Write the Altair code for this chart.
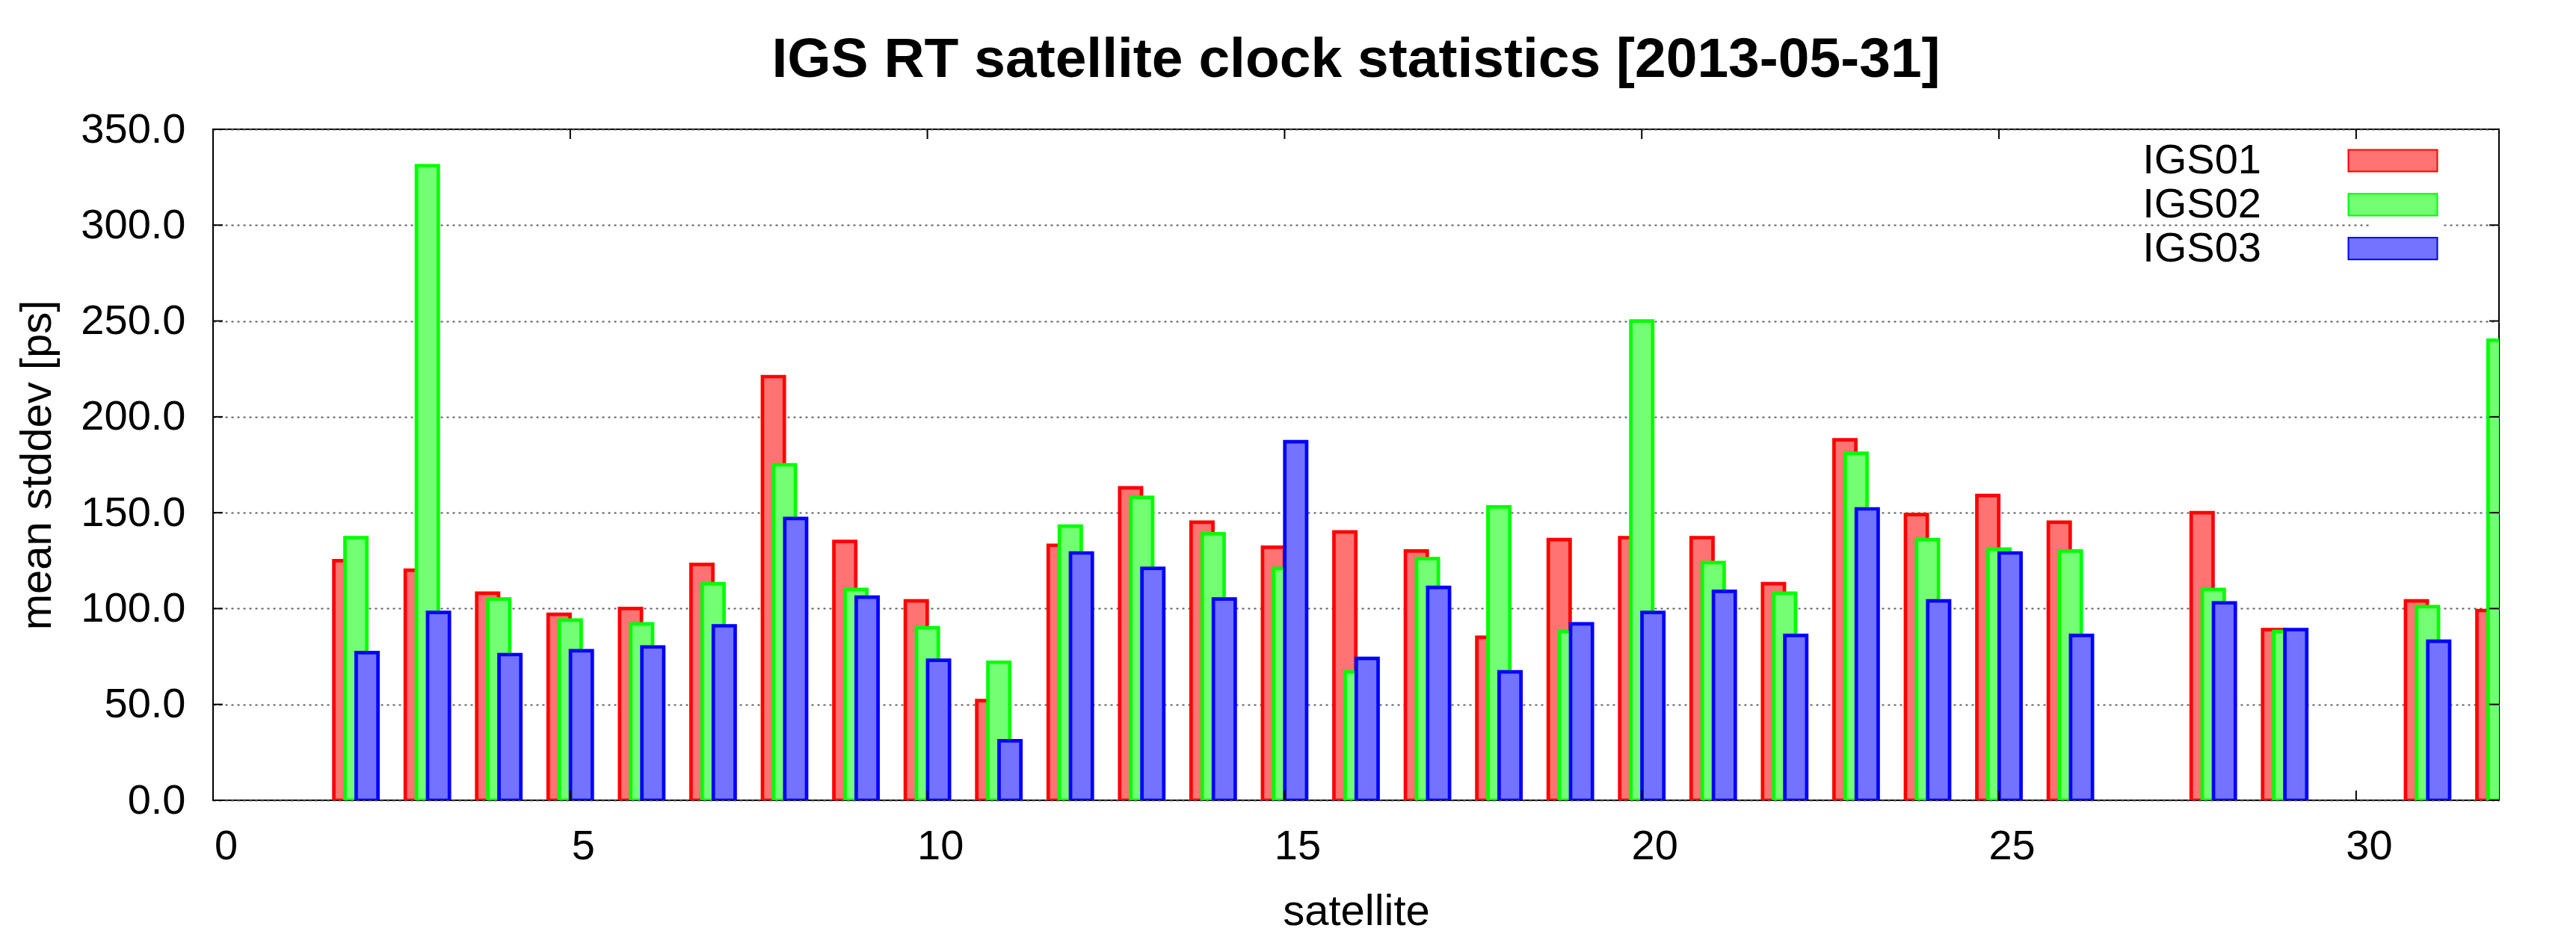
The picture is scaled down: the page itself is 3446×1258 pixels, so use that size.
import altair as alt
import pandas as pd

# ---- data ----
satellites = list(range(1, 33))
series_names = ["IGS01", "IGS02", "IGS03"]
igs01 = [None, 125, 120, 108, 97, 100, 123, 221, 135, 104, 52, 133, 163, 145, 132, 140,
         130, 85, 136, 137, 137, 113, 188, 149, 159, 145, None, 150, 89, None, 104, 99]
igs02 = [None, 137, 331, 105, 94, 92, 113, 175, 110, 90, 72, 143, 158, 139, 121, 67,
         126, 153, 88, 250, 124, 108, 181, 136, 131, 130, None, 110, 88, None, 101, 240]
igs03 = [None, 77, 98, 76, 78, 80, 91, 147, 106, 73, 31, 129, 121, 105, 187, 74,
         111, 67, 92, 98, 109, 86, 152, 104, 129, 86, None, 103, 89, None, 83, None]
x_ticks = [0, 5, 10, 15, 20, 25, 30]
y_ticks = [0, 50, 100, 150, 200, 250, 300, 350]

# ---- styling ----
fills = ["#ff7373", "#73ff73", "#7373ff"]
strokes = ["#ff0000", "#00ff00", "#0000ff"]
offsets = [-0.156, 0.0, 0.156]
half_w = 0.153
FONT = "Liberation Sans"
W, H = 3058, 898

rows = []
for name, vals, off in zip(series_names, [igs01, igs02, igs03], offsets):
    for s, v in zip(satellites, vals):
        if v is None:
            continue
        rows.append({"series": name, "sat": s, "value": v,
                     "x0": s + off - half_w, "x1": s + off + half_w})
df = pd.DataFrame(rows)

xscale = alt.Scale(domain=[0, 32], nice=False, zero=False)
yscale = alt.Scale(domain=[0, 350], nice=False)

x_axis = alt.Axis(
    values=x_ticks, format="d", grid=False, ticks=False, tickSize=0, domain=False,
    labelFontSize=56, labelFont=FONT, labelColor="black", labelPadding=78,
    labelBaseline="alphabetic", labelOffset=17, labelFlush=False,
    title="satellite", titleFontSize=58, titleFont=FONT, titleFontWeight="normal",
    titleColor="black", titleX=W / 2, titleY=166, titleBaseline="alphabetic",
    titleAlign="center")
y_axis = alt.Axis(
    values=y_ticks, format=".1f", grid=True, gridDash=[3, 5], gridColor="#606060",
    gridWidth=1.8, ticks=False, tickSize=0, domain=False,
    labelFontSize=56, labelFont=FONT, labelColor="black", labelPadding=37,
    labelBaseline="middle", labelFlush=False,
    title="mean stddev [ps]", titleFontSize=58, titleFont=FONT,
    titleFontWeight="normal", titleColor="black", titleX=-218, titleY=H / 2,
    titleAngle=270, titleBaseline="alphabetic", titleAlign="center")

# legend: labels on the left, wide swatches on the right
legend = alt.Legend(
    orient="none", legendX=2888, legendY=14, padding=0, title=None,
    labelFontSize=56, labelFont=FONT, labelColor="black", labelAlign="right",
    labelOffset={"expr": "-204"}, labelBaseline="middle", labelLimit=0,
    symbolType="M-4,-0.98H4V0.98H-4Z", symbolSize=885, symbolStrokeWidth=2,
    symbolOpacity=1, rowPadding={"expr": "2.8"}, fillColor="white",
)

bars = alt.Chart(df).mark_bar(strokeWidth=4.7, opacity=1, clip=True).encode(
    x=alt.X("x0:Q", scale=xscale, axis=x_axis),
    x2="x1:Q",
    y=alt.Y("value:Q", scale=yscale, stack=None, axis=y_axis),
    y2=alt.datum(0),
    fill=alt.Fill("series:N", scale=alt.Scale(domain=series_names, range=fills), legend=legend),
    stroke=alt.Stroke("series:N", scale=alt.Scale(domain=series_names, range=strokes), legend=legend),
)

xt = pd.DataFrame({"v": x_ticks})
yt = pd.DataFrame({"v": y_ticks})
TL = 13
tick_style = dict(color="black", strokeWidth=2)

x_bottom = alt.Chart(xt).mark_rule(**tick_style).encode(
    x=alt.X("v:Q", scale=xscale, axis=x_axis), y=alt.value(H), y2=alt.value(H - TL))
x_top = alt.Chart(xt).mark_rule(**tick_style).encode(
    x=alt.X("v:Q", scale=xscale, axis=x_axis), y=alt.value(0), y2=alt.value(TL))
y_left = alt.Chart(yt).mark_rule(**tick_style).encode(
    y=alt.Y("v:Q", scale=yscale, axis=y_axis), x=alt.value(0), x2=alt.value(TL))
y_right = alt.Chart(yt).mark_rule(**tick_style).encode(
    y=alt.Y("v:Q", scale=yscale, axis=y_axis), x=alt.value(W), x2=alt.value(W - TL))

chart = alt.layer(bars, x_bottom, x_top, y_left, y_right).properties(
    width=W, height=H,
    title=alt.TitleParams(
        "IGS RT satellite clock statistics [2013-05-31]", fontSize=75, fontWeight="bold",
        font=FONT, color="black", anchor="middle", frame="group",
        baseline="alphabetic", offset={"expr": "-33"}),
    autosize=alt.AutoSizeParams(type="none"),
    padding={"left": 277, "top": 165, "right": 95, "bottom": 179},
    background="white",
).configure_view(stroke="black", strokeWidth=2)

chart.save("out.html", embed_options={"renderer": "svg", "actions": False})
